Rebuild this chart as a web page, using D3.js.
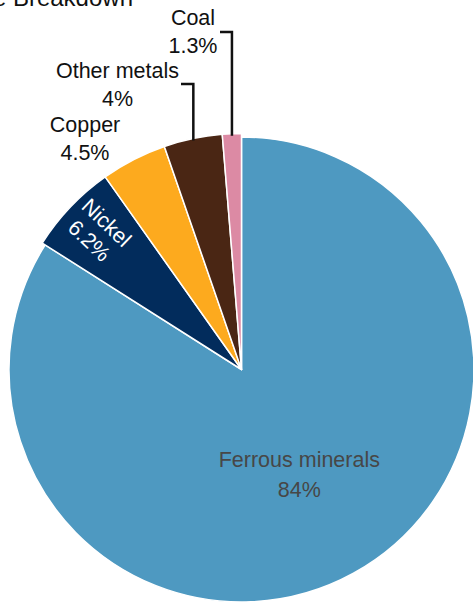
<!DOCTYPE html>
<html>
<head>
<meta charset="utf-8">
<script src="https://cdn.jsdelivr.net/npm/d3@7"></script>
<style>
  html, body { margin: 0; padding: 0; background: #fff; }
  svg { display: block; font-family: "Liberation Sans", Arial, sans-serif; }
</style>
</head>
<body>
<svg id="chart" width="473" height="604"></svg>
<script>
// Share of each category, in percent
const categories = ["Ferrous minerals", "Nickel", "Copper", "Other metals", "Coal"];
const shares = [84, 6.2, 4.5, 4, 1.3];
const colors = ["#4e99c1", "#022c5c", "#fdaa1e", "#4a2614", "#dc8aa4"];
const title = "Mine Waste Breakdown";

const svg = d3.select("#chart");
const cx = 241.5, cy = 369.5;
const rMain = 232.5, rSmall = 236;
const fontSize = 21.5;

const data = categories.map((c, i) => ({ name: c, value: shares[i], color: colors[i] }));

const pie = d3.pie().sort(null).value(d => d.value);
const arcs = pie(data);

const g = svg.append("g").attr("transform", `translate(${cx},${cy})`);

const arcFor = d => d3.arc().innerRadius(0).outerRadius(d.index === 0 ? rMain : rSmall)(d);

g.selectAll("path.slice")
  .data(arcs)
  .join("path")
  .attr("class", "slice")
  .attr("d", arcFor)
  .attr("fill", d => d.data.color)
  .attr("stroke", "#fff")
  .attr("stroke-width", 1.5)
  .attr("stroke-linejoin", "round");

const mid = d => (d.startAngle + d.endAngle) / 2;
const pointAt = (d, r) => [r * Math.sin(mid(d)), -r * Math.cos(mid(d))];
const fmt = v => `${v}%`;

// Ferrous minerals: label inside the slice
{
  const d = arcs[0];
  const [x, y] = pointAt(d, 120);
  const t = g.append("text")
    .attr("text-anchor", "middle")
    .attr("fill", "#474747")
    .attr("font-size", fontSize);
  t.append("tspan").attr("x", x).attr("y", y - 8).text(d.data.name);
  t.append("tspan").attr("x", x).attr("y", y + 22).text(fmt(d.data.value));
}

// Nickel: label rotated along the slice radius
{
  const d = arcs[1];
  const [x, y] = pointAt(d, 199);
  const rot = mid(d) * 180 / Math.PI - 270;
  const t = g.append("text")
    .attr("text-anchor", "middle")
    .attr("fill", "#fff")
    .attr("font-size", fontSize)
    .attr("transform", `translate(${x},${y}) rotate(${rot})`);
  t.append("tspan").attr("x", 0).attr("y", -6).text(d.data.name);
  t.append("tspan").attr("x", 0).attr("y", 19).text(fmt(d.data.value));
}

// Outside labels (positions in page coordinates)
const outside = [
  { i: 2, x: 85, y1: 132, y2: 160 },
  { i: 3, x: 117.5, y1: 78, y2: 106, elbowY: 84, elbowX: 181 },
  { i: 4, x: 193, y1: 25, y2: 53, elbowY: 32, elbowX: 220 }
];

outside.forEach(o => {
  const d = arcs[o.i];
  const t = svg.append("text")
    .attr("text-anchor", "middle")
    .attr("fill", "#111")
    .attr("font-size", fontSize);
  t.append("tspan").attr("x", o.x).attr("y", o.y1).text(d.data.name);
  t.append("tspan").attr("x", o.x).attr("y", o.y2).text(fmt(d.data.value));
  if (o.elbowY !== undefined) {
    const [px, py] = pointAt(d, rSmall - 2);
    const ax = cx + px, ay = cy + py;
    svg.append("path")
      .attr("d", `M${ax},${ay}V${o.elbowY}H${o.elbowX}`)
      .attr("fill", "none")
      .attr("stroke", "#111")
      .attr("stroke-width", 2.5);
  }
});

// Title, partly above the page edge
svg.append("text")
  .attr("x", 133)
  .attr("y", 6)
  .attr("text-anchor", "end")
  .attr("fill", "#111")
  .attr("font-size", 24)
  .text(title);
</script>
</body>
</html>
